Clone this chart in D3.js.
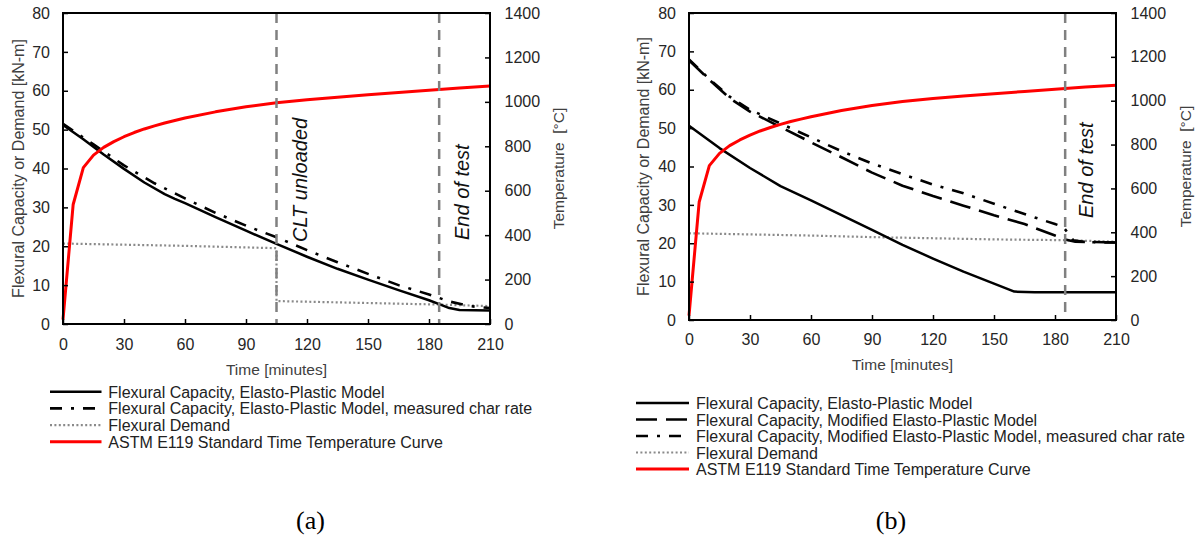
<!DOCTYPE html>
<html>
<head>
<meta charset="utf-8">
<script src="https://cdn.jsdelivr.net/npm/d3@7"></script>
<style>
  html, body { margin: 0; padding: 0; background: #fff; }
  svg { display: block; }
</style>
</head>
<body>
<svg id="chart" width="1195" height="558"></svg>
<script>
// ---------------- DATA ----------------
const timeTicks = [0, 30, 60, 90, 120, 150, 180, 210];
const momentTicks = [0, 10, 20, 30, 40, 50, 60, 70, 80];
const tempTicks = [0, 200, 400, 600, 800, 1000, 1200, 1400];

// ASTM E119 standard time-temperature curve [minutes, °C]
const astmCurve = [[0,20],[5,538],[10,704],[15,760],[20,795],[25,821],[30,843],[35,862],[40,878],
  [45,892],[50,905],[55,916],[60,927],[75,955],[90,978],[105,996],[120,1010],[135,1021],
  [150,1032],[165,1042],[180,1052],[195,1062],[210,1071]];

// Panel (a)
const aCapacity = [[0,51.2],[10,47.5],[20,43.6],[30,39.9],[40,36.4],[50,33.4],[55,32.2],[60,31.1],
  [75,27.5],[90,24.0],[105,20.6],[120,17.3],[135,14.2],[150,11.4],[165,8.7],[180,6.1],[185,5.1],
  [190,4.1],[195,3.6],[210,3.5]];
const aCapacityMeasured = [[0,51.5],[15,46.2],[30,40.8],[45,36.2],[60,32.3],[75,28.6],[90,25.3],
  [105,22.3],[120,19.0],[135,15.9],[150,12.9],[165,10.0],[180,7.6],[190,5.8],[200,4.6],[210,4.1]];
const aDemand = [[0,20.7],[30,20.4],[60,20.1],[90,19.7],[105,19.5],[105,5.9],[150,5.4],[185,5.0],[210,4.6]];
const aMarkers = [105, 185];
const aMarkerLabels = ["CLT unloaded", "End of test"];
const aLegendLabels = ["Flexural Capacity, Elasto-Plastic Model",
  "Flexural Capacity, Elasto-Plastic Model, measured char rate",
  "Flexural Demand",
  "ASTM E119 Standard Time Temperature Curve"];

// Panel (b)
const bCapacity = [[0,50.6],[15,44.8],[30,39.6],[45,34.9],[60,31.2],[75,27.3],[90,23.5],[105,19.6],
  [120,16.0],[135,12.6],[150,9.5],[160,7.4],[170,7.2],[210,7.2]];
const bModified = [[0,67.7],[10,62.6],[20,57.8],[30,54.3],[45,50.3],[60,46.3],[75,42.4],[90,38.4],
  [105,35.0],[120,32.3],[135,29.8],[150,27.3],[165,25.0],[180,22.0],[185,21.0],[190,20.4],[210,20.2]];
const bModifiedMeasured = [[0,67.9],[10,62.8],[20,58.2],[30,54.8],[45,51.2],[60,47.6],[75,44.0],
  [90,40.8],[105,38.0],[120,35.3],[135,33.0],[150,30.3],[165,27.6],[180,25.0],[184,24.3],[189,20.8],
  [195,20.3],[210,20.2]];
const bDemand = [[0,22.6],[30,22.3],[60,22.0],[90,21.6],[120,21.3],[150,21.0],[185,20.8],[210,20.4]];
const bMarkers = [185];
const bMarkerLabels = ["End of test"];
const bLegendLabels = ["Flexural Capacity, Elasto-Plastic Model",
  "Flexural Capacity, Modified Elasto-Plastic Model",
  "Flexural Capacity, Modified Elasto-Plastic Model, measured char rate",
  "Flexural Demand",
  "ASTM E119 Standard Time Temperature Curve"];

const panelLabels = ["(a)", "(b)"];
const leftTitle = "Flexural Capacity or Demand [kN-m]";
const rightTitle = "Temperature  [°C]";
const bottomTitle = "Time [minutes]";

// ---------------- STYLES ----------------
const SANS = "'Liberation Sans', Arial, sans-serif";
const SERIF = "'Liberation Serif', 'Times New Roman', serif";
const styles = {
  solid:   { stroke: "#000", width: 2.5, dash: null },
  dashdot: { stroke: "#000", width: 2.6, dash: "12,9,3,9" },
  dashed:  { stroke: "#000", width: 2.6, dash: "21,9" },
  dotted:  { stroke: "#8a8a8a", width: 2.2, dash: "2,2.4" },
  red:     { stroke: "#ff0000", width: 3, dash: null }
};

const svg = d3.select("#chart");
svg.append("rect").attr("width", 1195).attr("height", 558).attr("fill", "#fff");

function drawPanel(cfg) {
  const g = svg.append("g").style("font-family", SANS);
  const x = d3.scaleLinear().domain([0, 210]).range([cfg.left, cfg.right]);
  const y = d3.scaleLinear().domain([0, 80]).range([cfg.bottom, cfg.top]);
  const yT = d3.scaleLinear().domain([0, 1400]).range([cfg.bottom, cfg.top]);
  const lineM = d3.line().x(d => x(d[0])).y(d => y(d[1]));
  const lineT = d3.line().x(d => x(d[0])).y(d => yT(d[1]));

  function path(data, gen, st) {
    const p = g.append("path").datum(data).attr("d", gen)
      .attr("fill", "none").attr("stroke", st.stroke).attr("stroke-width", st.width)
      .attr("stroke-linejoin", "round");
    if (st.dash) p.attr("stroke-dasharray", st.dash);
  }

  cfg.series.forEach(s => path(s.data, s.temp ? lineT : lineM, styles[s.style]));

  // vertical marker lines
  cfg.markers.forEach((m, i) => {
    g.append("line").attr("x1", x(m)).attr("x2", x(m)).attr("y1", cfg.top).attr("y2", cfg.bottom)
      .attr("stroke", "#808080").attr("stroke-width", 2.5).attr("stroke-dasharray", "10,7");
    g.append("text")
      .attr("transform", `translate(${x(m) + cfg.markerDx},${cfg.markerY[i]}) rotate(-90)`)
      .style("font-size", "20px").style("font-style", "italic").attr("fill", "#111")
      .text(cfg.markerLabels[i]);
  });

  // axes
  const fmt = d3.format("d");
  const ax = g.append("g").attr("transform", `translate(0,${cfg.bottom})`)
    .call(d3.axisBottom(x).tickValues(timeTicks).tickFormat(fmt).tickSizeInner(-5).tickSizeOuter(0).tickPadding(cfg.xPad));
  const ay = g.append("g").attr("transform", `translate(${cfg.left},0)`)
    .call(d3.axisLeft(y).tickValues(momentTicks).tickFormat(fmt).tickSizeInner(-5).tickSizeOuter(0).tickPadding(13));
  const ar = g.append("g").attr("transform", `translate(${cfg.right},0)`)
    .call(d3.axisRight(yT).tickValues(tempTicks).tickFormat(fmt).tickSizeInner(-5).tickSizeOuter(0).tickPadding(14.5));
  [ax, ay, ar].forEach(a => {
    a.attr("font-family", null).attr("font-size", null);
    a.select(".domain").remove();
    a.selectAll(".tick line").attr("stroke", "#000").attr("stroke-width", 1.5);
    a.selectAll(".tick text").style("font-size", "16px").attr("fill", "#262626")
      .style("font-family", SANS);
  });

  // frame
  g.append("rect").attr("x", cfg.left).attr("y", cfg.top)
    .attr("width", cfg.right - cfg.left).attr("height", cfg.bottom - cfg.top)
    .attr("fill", "none").attr("stroke", "#000").attr("stroke-width", 2);

  // titles
  const midY = (cfg.top + cfg.bottom) / 2;
  g.append("text").attr("transform", `translate(${cfg.leftTitleX},${midY}) rotate(-90)`)
    .attr("text-anchor", "middle").style("font-size", "16px").attr("fill", "#404040")
    .style("white-space", "pre").text(leftTitle);
  g.append("text").attr("transform", `translate(${cfg.rightTitleX},${midY}) rotate(-90)`)
    .attr("text-anchor", "middle").style("font-size", "15.5px").attr("fill", "#404040")
    .style("white-space", "pre").text(rightTitle);
  g.append("text").attr("x", (cfg.left + cfg.right) / 2).attr("y", cfg.timeTitleY)
    .attr("text-anchor", "middle").style("font-size", "15.5px").attr("fill", "#404040")
    .text(bottomTitle);

  // legend
  cfg.legend.forEach((lab, i) => {
    const ly = cfg.legendY + i * cfg.legendStep;
    const st = styles[cfg.legendStyles[i]];
    const l = g.append("line").attr("x1", cfg.legendX1).attr("x2", cfg.legendX2)
      .attr("y1", ly).attr("y2", ly).attr("stroke", st.stroke).attr("stroke-width", st.width);
    if (st.dash) l.attr("stroke-dasharray", st.dash);
    g.append("text").attr("x", cfg.legendTextX).attr("y", ly + 6)
      .style("font-size", "16px").attr("fill", "#222").text(lab);
  });

  // panel label
  g.append("text").attr("x", cfg.panelLabelX).attr("y", 529).attr("text-anchor", "middle")
    .style("font-size", "26px").style("font-family", SERIF)
    .attr("fill", "#000").text(cfg.panelLabel);
}

drawPanel({
  left: 63, right: 490, top: 13, bottom: 324, xPad: 14.5,
  series: [
    { data: aDemand, style: "dotted" },
    { data: aCapacityMeasured, style: "dashdot" },
    { data: aCapacity, style: "solid" },
    { data: astmCurve, style: "red", temp: true }
  ],
  markers: aMarkers, markerLabels: aMarkerLabels, markerDx: 30, markerY: [242, 240],
  leftTitleX: 23.5, rightTitleX: 563.5, timeTitleY: 375,
  legend: aLegendLabels, legendStyles: ["solid", "dashdot", "dotted", "red"],
  legendX1: 50, legendX2: 101.5, legendTextX: 108.3, legendY: 391.7, legendStep: 16.67,
  panelLabel: panelLabels[0], panelLabelX: 310.5
});

drawPanel({
  left: 689, right: 1116, top: 13, bottom: 320, xPad: 13.5,
  series: [
    { data: bDemand, style: "dotted" },
    { data: bModified, style: "dashed" },
    { data: bModifiedMeasured, style: "dashdot" },
    { data: bCapacity, style: "solid" },
    { data: astmCurve, style: "red", temp: true }
  ],
  markers: bMarkers, markerLabels: bMarkerLabels, markerDx: 28, markerY: [218],
  leftTitleX: 648.5, rightTitleX: 1191, timeTitleY: 370,
  legend: bLegendLabels, legendStyles: ["solid", "dashed", "dashdot", "dotted", "red"],
  legendX1: 636, legendX2: 689, legendTextX: 696, legendY: 403, legendStep: 16.5,
  panelLabel: panelLabels[1], panelLabelX: 891
});
</script>
</body>
</html>
